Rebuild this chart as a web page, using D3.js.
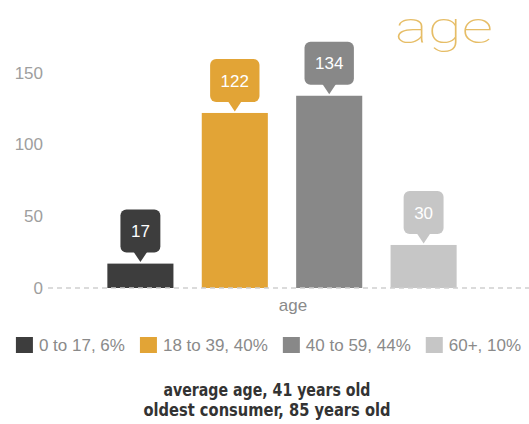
<!DOCTYPE html>
<html>
<head>
<meta charset="utf-8">
<script src="https://cdn.jsdelivr.net/npm/d3@7"></script>
<style>
  html, body { margin: 0; padding: 0; background: #ffffff; }
  svg { display: block; }
</style>
</head>
<body>
<svg id="chart" width="529" height="424"></svg>
<script>
const categories = ["0 to 17", "18 to 39", "40 to 59", "60+"];
const values = [17, 122, 134, 30];
const legendLabels = ["0 to 17, 6%", "18 to 39, 40%", "40 to 59, 44%", "60+, 10%"];
const colors = ["#3d3d3d", "#e2a436", "#888888", "#c6c6c6"];
const yTicks = [0, 50, 100, 150];
const title = "age";
const xAxisTitle = "age";
const footnotes = ["average age, 41 years old", "oldest consumer, 85 years old"];

const svg = d3.select("#chart");
const font = "'Liberation Sans', Arial, Helvetica, sans-serif";

const x = d3.scaleBand().domain(categories).range([46, 518]).paddingInner(0.3).paddingOuter(0.65);
const y = d3.scaleLinear().domain([0, 150]).range([288, 72.8]);

// Title
svg.append("text")
  .attr("x", 395).attr("y", 43)
  .attr("font-family", "Roboto, 'Open Sans', 'DejaVu Sans', sans-serif")
  .attr("font-weight", 100)
  .attr("font-size", 45)
  .attr("textLength", 98)
  .attr("lengthAdjust", "spacingAndGlyphs")
  .attr("fill", "#e6bd66")
  .text(title);

// Y axis labels
svg.append("g").selectAll("text")
  .data(yTicks).join("text")
  .attr("x", 43).attr("y", d => y(d))
  .attr("dy", "0.35em")
  .attr("text-anchor", "end")
  .attr("font-family", font)
  .attr("font-size", 17)
  .attr("fill", "#9e9e9e")
  .text(d => d);

// Bars
svg.append("g").selectAll("rect")
  .data(values).join("rect")
  .attr("x", (d, i) => x(categories[i]))
  .attr("y", d => y(d))
  .attr("width", x.bandwidth())
  .attr("height", d => y(0) - y(d))
  .attr("fill", (d, i) => colors[i]);

// Baseline dashed
svg.append("line")
  .attr("x1", 48).attr("x2", 529)
  .attr("y1", y(0)).attr("y2", y(0))
  .attr("stroke", "#cfcfcf")
  .attr("stroke-width", 1.5)
  .attr("stroke-dasharray", "5,4");

// Value callouts
const lab = svg.append("g");
values.forEach((v, i) => {
  const cx = x(categories[i]) + x.bandwidth() / 2;
  const tip = y(v) - 1.5;
  const bottom = y(v) - 11;
  const h = 43;
  const g = lab.append("g");
  const t = g.append("text")
    .attr("x", cx).attr("y", bottom - h / 2)
    .attr("dy", "0.36em")
    .attr("text-anchor", "middle")
    .attr("font-family", font)
    .attr("font-size", 17)
    .attr("fill", "#ffffff")
    .text(v);
  const w = t.node().getComputedTextLength() + 21;
  g.insert("rect", "text")
    .attr("x", cx - w / 2).attr("y", bottom - h)
    .attr("width", w).attr("height", h)
    .attr("rx", 6).attr("ry", 6)
    .attr("fill", colors[i]);
  g.insert("path", "text")
    .attr("d", `M${cx - 7},${bottom - 1}L${cx + 7},${bottom - 1}L${cx},${tip}Z`)
    .attr("fill", colors[i]);
});

// X axis title
svg.append("text")
  .attr("x", 293).attr("y", 311)
  .attr("text-anchor", "middle")
  .attr("font-family", font)
  .attr("font-size", 17)
  .attr("fill", "#8a8a8a")
  .text(xAxisTitle);

// Legend
const leg = svg.append("g");
const items = legendLabels.map((lbl, i) => {
  const g = leg.append("g");
  g.append("rect").attr("x", 0).attr("y", 337).attr("width", 17).attr("height", 16).attr("fill", colors[i]);
  const t = g.append("text")
    .attr("x", 23).attr("y", 351)
    .attr("font-family", font)
    .attr("font-size", 17)
    .attr("fill", "#8a8a8a")
    .text(lbl);
  return { g, w: 23 + t.node().getComputedTextLength() };
});
const gap = 15;
const total = d3.sum(items, d => d.w) + gap * (items.length - 1);
let cur = 268.5 - total / 2;
items.forEach(it => { it.g.attr("transform", `translate(${cur},0)`); cur += it.w + gap; });

// Footnotes
const footLens = [207, 247];
footnotes.forEach((s, i) => {
  svg.append("text")
    .attr("x", 267).attr("y", 396 + i * 20)
    .attr("text-anchor", "middle")
    .attr("font-family", "'DejaVu Sans Condensed', 'DejaVu Sans', sans-serif")
    .attr("font-weight", "bold")
    .attr("font-size", 17)
    .attr("textLength", footLens[i])
    .attr("lengthAdjust", "spacingAndGlyphs")
    .attr("fill", "#333333")
    .text(s);
});
</script>
</body>
</html>
